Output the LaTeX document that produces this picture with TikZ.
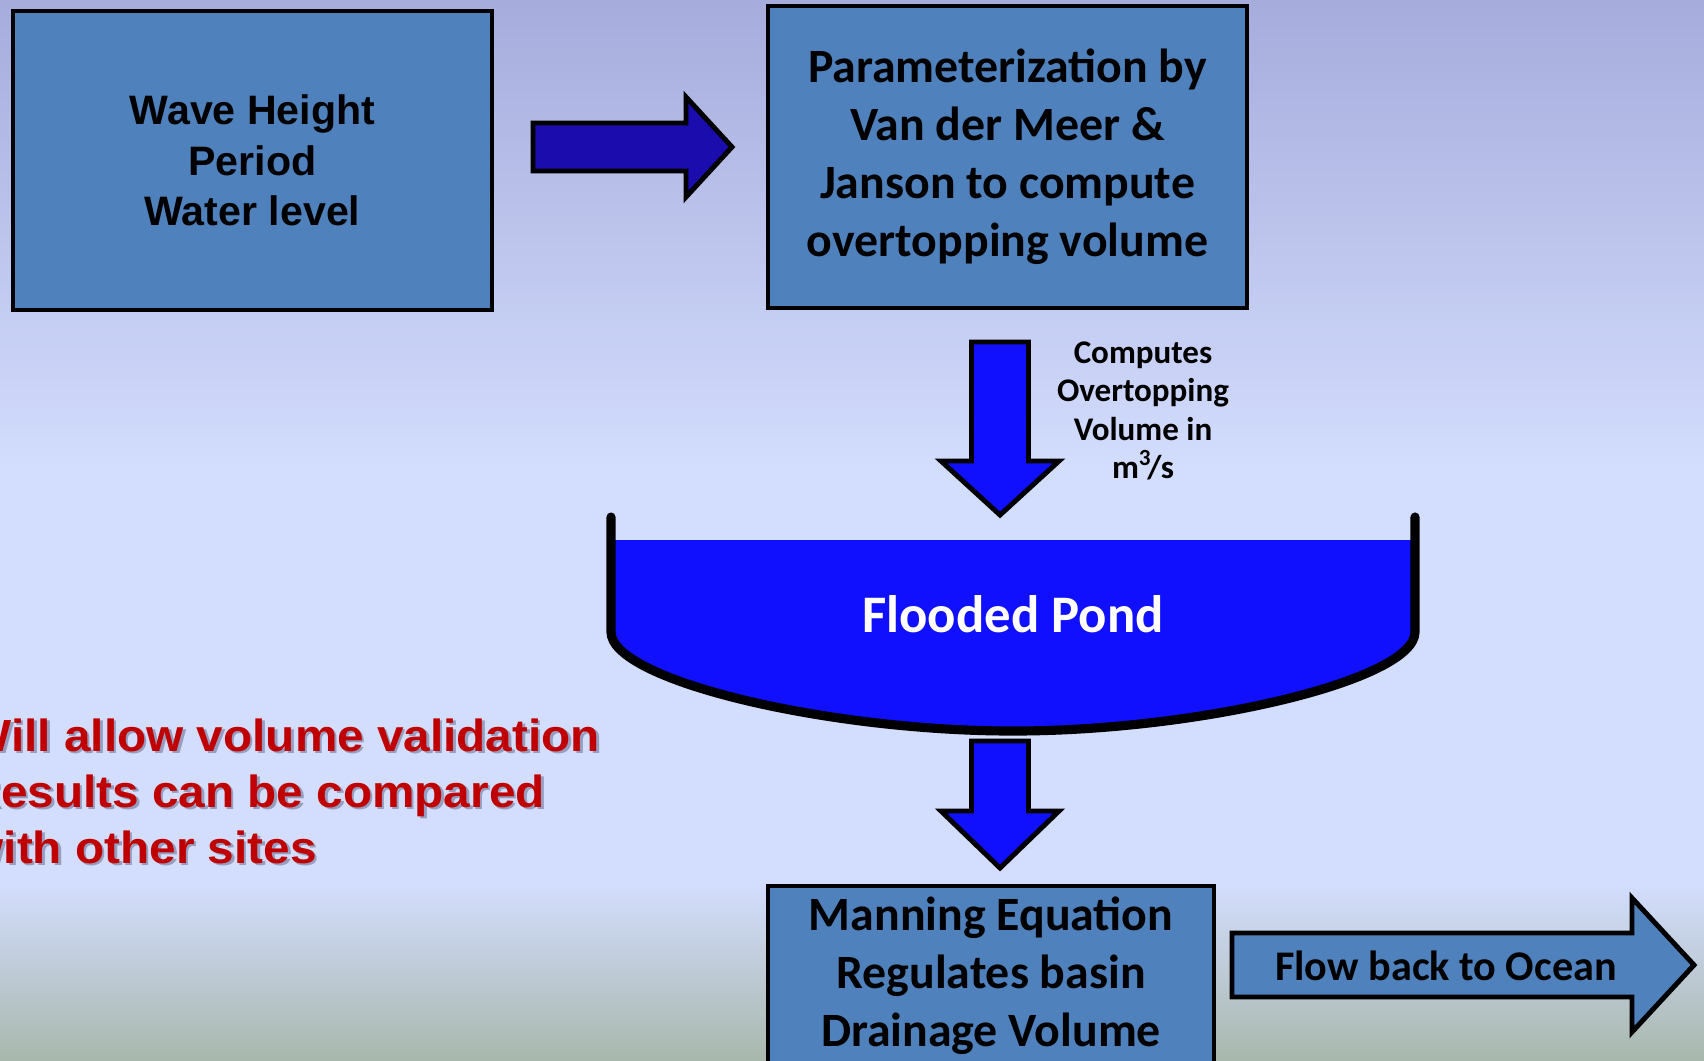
\documentclass[tikz,border=0pt]{standalone}
\usepackage{fontspec}
\setmainfont{Carlito}
\newfontfamily\arialfont{Liberation Sans}
\newfontfamily\redfont[FakeStretch=1.06]{Liberation Sans}

\definecolor{bgtop}{HTML}{A6ACDC}
\definecolor{bgmid}{HTML}{D3DDFD}
\definecolor{bgbot}{HTML}{A8B8AD}
\definecolor{boxblue}{HTML}{4F81BD}
\definecolor{navyarrow}{HTML}{1A0CAD}
\definecolor{water}{HTML}{1010FF}
\definecolor{alertred}{HTML}{C00000}
\definecolor{shadowgray}{HTML}{5A5F80}

% block arrow: style, start, angle, length, head length, shaft half width, head half width
\newcommand{\blockarrow}[7]{%
  \draw[#1, shift={#2}, rotate=#3] (0,-#6) -- ({#4-#5},-#6) -- ({#4-#5},-#7)
    -- (#4,0) -- ({#4-#5},#7) -- ({#4-#5},#6) -- (0,#6) -- cycle;}

\tikzset{
  box/.style={draw=black, line width=1.1pt, fill=boxblue, inner sep=0pt, align=center,
    font=\bfseries\fontsize{13.6}{16.5}\selectfont},
  blk/.style={draw=black, line width=1.4pt, fill=#1},
  redtxt/.style={inner sep=0pt, align=left, anchor=west,
    font=\redfont\bfseries\fontsize{12.8}{15.9}\selectfont},
}

\begin{document}
\begin{tikzpicture}[x=0.01cm, y=-0.01cm]
        \useasboundingbox (0,0) rectangle (1704,1060);
        \clip (0,0) rectangle (1704,1060);
        % background
        \fill[bgmid] (0,0) rectangle (1704,1060);
        \shade[top color=bgtop, bottom color=bgmid] (0,0) rectangle (1704,470);
        \shade[top color=bgmid, bottom color=bgbot] (0,885) rectangle (1704,1060);

        \node[box, minimum width=4.79cm, minimum height=2.99cm,
          font=\arialfont\bfseries\fontsize{11.7}{14.4}\selectfont] (wave) at (252.5,160.5)
          {Wave Height\\Period\\Water level};
        \node[box, minimum width=4.79cm, minimum height=3.02cm] (param) at (1007.5,157)
          {Parameterization by\\Van der Meer \&\\Janson to compute\\overtopping volume};
        \node[box, minimum width=4.46cm, minimum height=1.80cm] (manning) at (991,976)
          {Manning Equation\\Regulates basin\\Drainage Volume};

        \coordinate (a1) at (533,147);
        \coordinate (a2) at (1000,342);
        \coordinate (a3) at (1000,741);
        \coordinate (a4) at (1232,965);
        \blockarrow{blk=navyarrow}{(a1)}{0}{199}{46}{24}{50}
        \blockarrow{blk=water}{(a2)}{-90}{173}{54}{28.5}{59}
        \blockarrow{blk=water}{(a3)}{-90}{127}{57}{28.5}{59}
        \blockarrow{blk=boxblue}{(a4)}{0}{462}{62}{32}{67}

        % pond
        \fill[water] (611,540) -- (611,632) .. controls (611,680) and (826,731) .. (1013,731)
          .. controls (1200,731) and (1415,680) .. (1415,632) -- (1415,540) -- cycle;
        \draw[line width=2.6pt, line cap=round] (611,517) -- (611,632)
          .. controls (611,680) and (826,731) .. (1013,731)
          .. controls (1200,731) and (1415,680) .. (1415,632) -- (1415,517);

        \node[text=white, font=\bfseries\fontsize{15}{18}\selectfont] (pond) at (1013,614) {Flooded Pond};
        \node[align=center, font=\bfseries\fontsize{9.4}{10.9}\selectfont] (rate) at (1143,411)
          {Computes\\Overtopping\\Volume in\\m\textsuperscript{3}\kern-0.15em/s};
        \node[font=\bfseries\fontsize{12}{14}\selectfont] (ocean) at (1446,966) {Flow back to Ocean};

        \node[redtxt, text=shadowgray, opacity=0.5] (noteshadow) at (-31.5,793.5)
          {Will allow volume validation\\Results can be compared\\with other sites};
        \node[redtxt, text=alertred] (note) at (-34,791)
          {Will allow volume validation\\Results can be compared\\with other sites};
    \end{tikzpicture}
\end{document}
